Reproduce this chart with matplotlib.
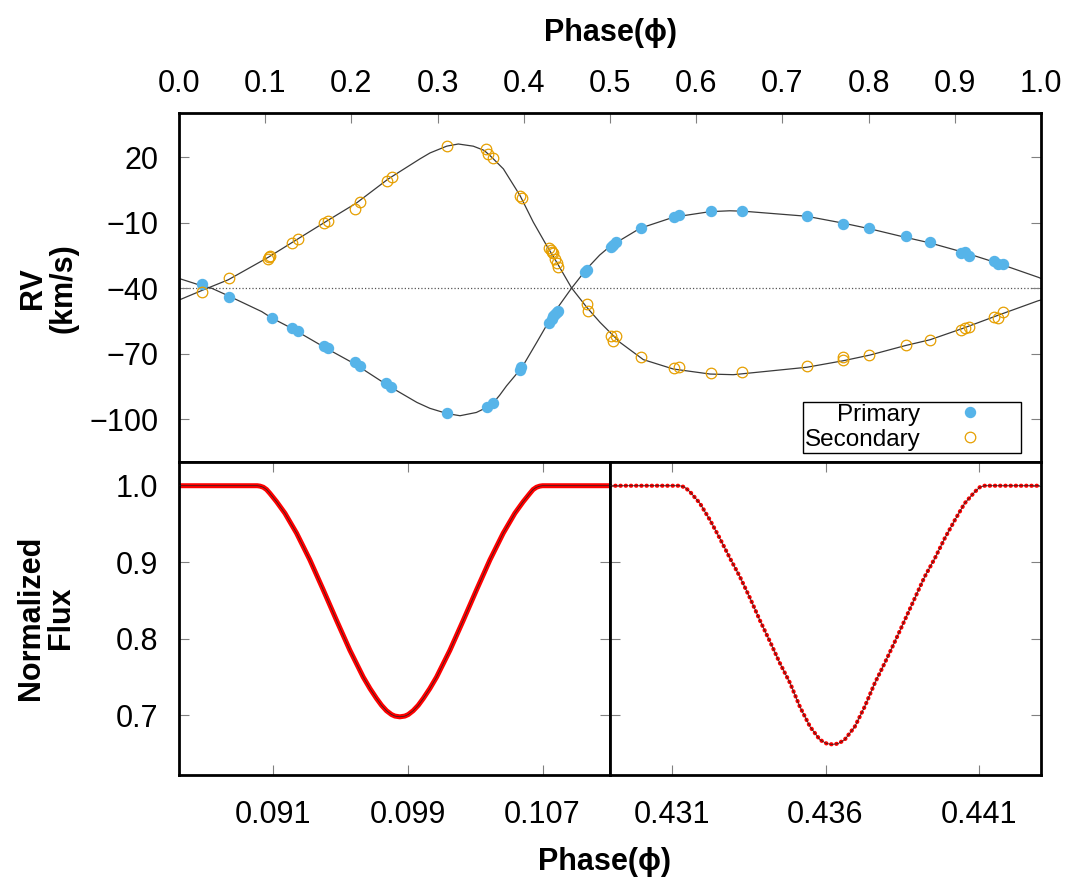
import numpy as np
import matplotlib
matplotlib.use('Agg')
from matplotlib import pyplot as plt

plt.rcParams['font.family'] = ['Liberation Sans', 'DejaVu Sans']

# radial velocity observations
prim_phase = [0.0263, 0.0577, 0.1075, 0.1307, 0.1384, 0.1686, 0.1733, 0.2042, 0.2100, 0.2400,
              0.2459, 0.3112, 0.3570, 0.3640, 0.3956, 0.3970, 0.4296, 0.4323, 0.4343, 0.4362,
              0.4380, 0.4400, 0.4710, 0.4737, 0.5015, 0.5040, 0.5070, 0.5356, 0.5740, 0.5800,
              0.6170, 0.6528, 0.7290, 0.7707, 0.8010, 0.8430, 0.8710, 0.9070, 0.9120, 0.9160,
              0.9455, 0.9500, 0.9560]
prim_rv = [-38.2, -44.1, -53.6, -58.3, -59.7, -66.6, -67.4, -73.9, -75.5, -83.4,
           -85.1, -97.2, -94.6, -92.6, -77.3, -76.2, -55.8, -54.1, -52.9, -51.8,
           -51.0, -50.2, -32.4, -31.5, -21.2, -20.3, -18.8, -12.5, -7.4, -6.6,
           -4.7, -4.8, -7.0, -10.5, -12.5, -16.1, -18.7, -23.8, -23.2, -25.0,
           -27.3, -28.9, -28.9]

sec_phase = [0.0263, 0.0577, 0.1029, 0.1045, 0.1056, 0.1307, 0.1384, 0.1686, 0.1733, 0.2042,
             0.2100, 0.2410, 0.2467, 0.3105, 0.3560, 0.3580, 0.3646, 0.3956, 0.3975, 0.4296,
             0.4310, 0.4323, 0.4343, 0.4362, 0.4380, 0.4400, 0.4730, 0.4749, 0.5015, 0.5040,
             0.5070, 0.5356, 0.5740, 0.5800, 0.6170, 0.6528, 0.7290, 0.7707, 0.7707, 0.8010,
             0.8430, 0.8710, 0.9070, 0.9120, 0.9160, 0.9455, 0.9500, 0.9560]
sec_rv = [-41.6, -35.4, -26.6, -25.6, -25.0, -19.4, -17.4, -10.2, -9.3, -3.6,
          -0.3, 9.1, 10.9, 25.4, 23.9, 21.6, 19.6, 2.5, 1.3, -21.7,
          -22.6, -23.5, -23.8, -26.6, -28.3, -30.4, -47.2, -50.3, -61.7, -64.0,
          -61.7, -71.7, -76.7, -76.2, -79.0, -78.5, -75.5, -71.7, -72.9, -70.6,
          -65.9, -63.6, -59.0, -58.2, -57.9, -53.3, -53.6, -50.7]

# model curves
mod1_phase = [0.000, 0.026, 0.038, 0.057, 0.096, 0.1075, 0.131, 0.169, 0.204, 0.243,
              0.276, 0.291, 0.311, 0.326, 0.345, 0.357, 0.365, 0.372, 0.380, 0.398,
              0.415, 0.434, 0.4555, 0.473, 0.488, 0.500, 0.535, 0.574, 0.616, 0.639,
              0.655, 0.728, 0.771, 0.802, 0.842, 0.871, 0.910, 0.949, 0.997, 1.000]
mod1_rv = [-35.5, -38.8, -40.0, -43.4, -50.7, -53.6, -58.4, -67.1, -74.7, -84.7,
           -92.3, -95.0, -97.4, -98.4, -96.9, -94.6, -92.3, -89.0, -84.7, -76.2,
           -64.8, -51.8, -39.9, -31.1, -24.8, -20.8, -12.5, -7.4, -4.9, -4.5,
           -4.7, -7.0, -10.2, -12.8, -16.6, -19.2, -23.5, -28.4, -35.0, -35.5]

mod2_phase = [0.000, 0.026, 0.0572, 0.1036, 0.1346, 0.1694, 0.206, 0.2428, 0.2796, 0.2912,
              0.3105, 0.324, 0.3414, 0.3538, 0.3608, 0.3763, 0.3956, 0.411, 0.4266, 0.4382,
              0.4555, 0.473, 0.4884, 0.5116, 0.5387, 0.5735, 0.616, 0.643, 0.7282, 0.7707,
              0.8016, 0.8422, 0.8712, 0.9099, 0.9486, 0.9969, 1.000]
mod2_rv = [-45.4, -41.1, -36.1, -25.8, -18.2, -9.7, -0.9, 10.1, 19.3, 22.0,
           25.1, 26.1, 25.1, 23.2, 20.8, 14.7, 2.5, -9.7, -20.5, -28.1,
           -39.9, -48.7, -55.6, -64.8, -72.7, -77.0, -79.3, -79.6, -76.2, -73.2,
           -70.6, -66.3, -63.6, -58.3, -52.6, -45.7, -45.4]

# light curves (primary and secondary eclipse)
lc1_phase = [0.0855, 0.0880, 0.09009, 0.09025, 0.09045, 0.09064, 0.09084, 0.09124, 0.09173, 0.09242,
             0.09321, 0.09400, 0.09479, 0.09558, 0.09637, 0.09677, 0.09716, 0.09746, 0.09775, 0.09805,
             0.09825, 0.09854, 0.09884, 0.09904, 0.09933, 0.09963, 0.09993, 0.10032, 0.10072, 0.10151,
             0.10230, 0.10309, 0.10388, 0.10467, 0.10536, 0.10585, 0.10625, 0.10644, 0.10664, 0.10684,
             0.10700, 0.1090, 0.1110]
lc1_flux = [1.000, 1.000, 1.000, 0.9995, 0.998, 0.995, 0.990, 0.979, 0.964, 0.938,
            0.903, 0.864, 0.824, 0.785, 0.750, 0.735, 0.722, 0.713, 0.706, 0.701,
            0.699, 0.698, 0.699, 0.701, 0.706, 0.713, 0.722, 0.735, 0.750, 0.785,
            0.824, 0.864, 0.903, 0.938, 0.964, 0.979, 0.990, 0.995, 0.998, 0.9995,
            1.000, 1.000, 1.000]

lc2_phase = [0.4290, 0.4300, 0.43127, 0.43143, 0.43160, 0.43192, 0.43225, 0.43257, 0.43290, 0.43322,
             0.43355, 0.43387, 0.43420, 0.43452, 0.43485, 0.43517, 0.43550, 0.43582, 0.43604, 0.43622,
             0.43641, 0.43662, 0.43695, 0.43727, 0.43760, 0.43792, 0.43825, 0.43857, 0.43890, 0.43922,
             0.43955, 0.43987, 0.44020, 0.44052, 0.44085, 0.44101, 0.44117, 0.4420, 0.4430]
lc2_flux = [1.000, 1.000, 1.000, 0.998, 0.992, 0.977, 0.955, 0.931, 0.905, 0.881,
            0.853, 0.824, 0.796, 0.768, 0.742, 0.711, 0.685, 0.668, 0.663, 0.662,
            0.663, 0.668, 0.685, 0.711, 0.742, 0.768, 0.796, 0.824, 0.853, 0.881,
            0.905, 0.931, 0.955, 0.977, 0.992, 0.998, 1.000, 1.000, 1.000]

rv_yticks = [20, -10, -40, -70, -100]
lc_yticks = [0.7, 0.8, 0.9, 1.0]
lc1_xticks = [0.091, 0.099, 0.107]
lc2_xticks = [0.431, 0.436, 0.441]

blue = '#56B4E9'
orange = '#E69F00'
tick_kw = dict(direction='in', length=7, width=0.8, color='#808080', labelsize=22)

fig = plt.figure(figsize=(10.76, 8.88), dpi=100)
x0, xm, x1 = 179 / 1076, 610 / 1076, 1041 / 1076
ax_rv = fig.add_axes([x0, 1 - 462 / 888, x1 - x0, 349 / 888])
ax1 = fig.add_axes([x0, 1 - 775 / 888, xm - x0, 313 / 888])
ax2 = fig.add_axes([xm, 1 - 775 / 888, x1 - xm, 313 / 888])

for ax in (ax_rv, ax1, ax2):
    for s in ax.spines.values():
        s.set_linewidth(2.0)

# --- RV panel
ax_rv.axhline(-40, ls=':', color='#555555', lw=0.9, zorder=1)
ax_rv.plot(mod1_phase, mod1_rv, color='#3a3a3a', lw=0.9, zorder=2)
ax_rv.plot(mod2_phase, mod2_rv, color='#3a3a3a', lw=0.9, zorder=2)
ax_rv.plot(prim_phase, prim_rv, 'o', ls='none', color=blue, ms=7.2, mec=blue, zorder=3, label='Primary')
ax_rv.plot(sec_phase, sec_rv, 'o', ls='none', mfc='none', mec=orange, mew=0.9, ms=7.6, zorder=3,
           label='Secondary')
ax_rv.set_xlim(0, 1)
ax_rv.set_ylim(-119.6, 40.3)
ax_rv.set_xticks(np.arange(0, 1.01, 0.1))
ax_rv.set_xticklabels(['%.1f' % v for v in np.arange(0, 1.01, 0.1)])
ax_rv.set_yticks(rv_yticks)
ax_rv.tick_params(axis='x', top=True, bottom=False, labeltop=True, labelbottom=False, pad=10, **tick_kw)
ax_rv.tick_params(axis='y', left=True, right=True, labelleft=True, pad=15, **tick_kw)

leg = ax_rv.legend(loc='lower right', bbox_to_anchor=(0.9765, 0.0267), markerfirst=False,
                   fancybox=False, edgecolor='black', framealpha=1, fontsize=17.5,
                   borderpad=0.08, labelspacing=0.12, handlelength=4.0, handletextpad=0.05,
                   borderaxespad=0)
leg.get_frame().set_linewidth(1.0)

# --- light curve panels
for ax, ph, fl, xt, xl in ((ax1, lc1_phase, lc1_flux, lc1_xticks, (0.08545, 0.1110)),
                           (ax2, lc2_phase, lc2_flux, lc2_xticks, (0.4290, 0.4430))):
    if ax is ax1:
        ax.plot(ph, fl, color='#ff0000', lw=3.6, solid_capstyle='round', solid_joinstyle='round', zorder=2)
    else:
        ax.plot(ph, fl, color='#ff0000', lw=3.0, ls=(0, (0.1, 1.15)), dash_capstyle='round', zorder=2)
    ax.plot(ph, fl, color='#222222', lw=0.5, zorder=3)
    ax.set_xlim(*xl)
    ax.set_ylim(0.622, 1.031)
    ax.set_xticks(xt)
    ax.set_xticklabels(['%.3f' % v for v in xt])
    ax.set_yticks(lc_yticks)
    ax.tick_params(axis='x', top=True, bottom=True, pad=18, **tick_kw)
    ax.tick_params(axis='y', left=True, right=True, pad=15, **tick_kw)

ax1.set_yticklabels(['%.1f' % v for v in lc_yticks])
ax2.tick_params(axis='y', labelleft=False)

# axis titles
fig.text(610 / 1076, 1 - 33 / 888, 'Phase(ϕ)', ha='center', va='center', fontsize=22, fontweight='bold')
fig.text(604 / 1076, 1 - 862 / 888, 'Phase(ϕ)', ha='center', va='center', fontsize=22, fontweight='bold')
fig.text(48 / 1076, 1 - 288 / 888, 'RV\n(km/s)', ha='center', va='center', rotation=90,
         fontsize=22, fontweight='bold', linespacing=1.0)
fig.text(46 / 1076, 1 - 618 / 888, 'Normalized\nFlux', ha='center', va='center', rotation=90,
         fontsize=22, fontweight='bold', linespacing=1.0)

fig.savefig('out.png', dpi=100)
